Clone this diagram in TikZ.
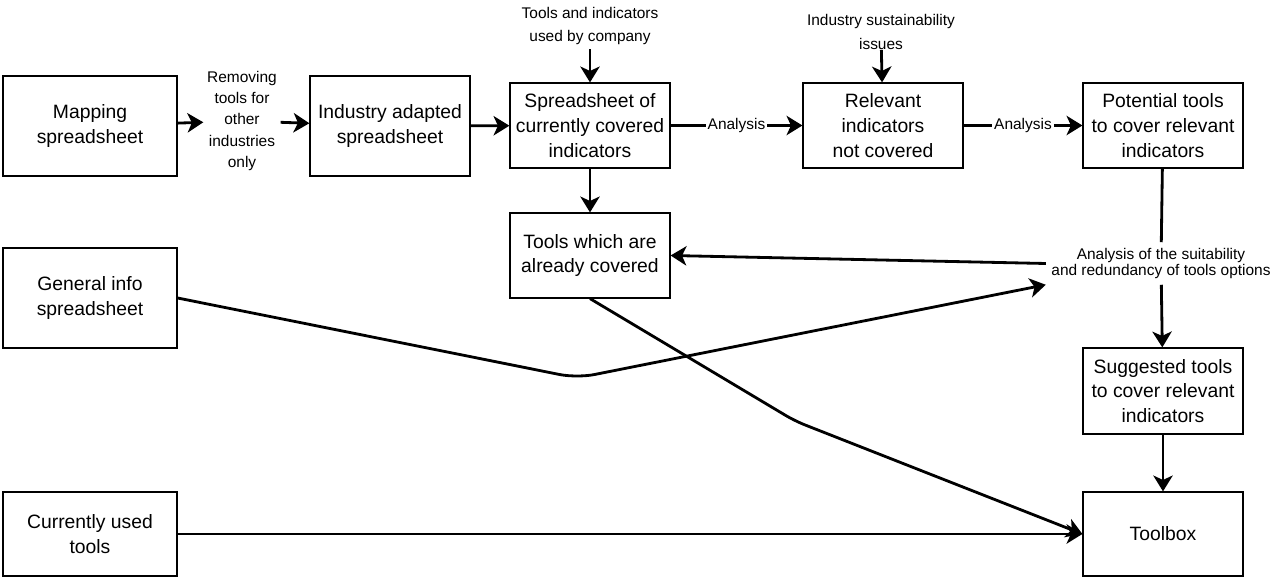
\documentclass[tikz,border=0pt]{standalone}
\usepackage{fontspec}
\setmainfont{Liberation Sans}
\usetikzlibrary{arrows.meta,positioning}

\begin{document}
\begin{tikzpicture}[x = 0.02cm, y = -0.02cm,
    box/.style = {draw, line width = 0.7pt, align = center, inner sep = 0pt, minimum width = 3.2cm, minimum height = 1.7cm, font = \fontsize{11}{14}\selectfont},
    note/.style = {align = center, inner sep = 2pt, font = \fontsize{8.8}{13.6}\selectfont},
    lab/.style = {fill = white, inner sep = 1pt, font = \fontsize{8.8}{10}\selectfont},
    link/.style = {line width = 1.6pt},
    arr/.style = {link, -{Stealth[length = 9pt, width = 11pt, inset = 2.5pt]}}]
            \useasboundingbox[fill = white](0,0)rectangle(1276,577);
            % top row
            \node[box, minimum width = 3.48cm, minimum height = 2cm](map)at(90,126){Mapping\\spreadsheet};
            \node[note, font = \fontsize{8.8}{12.2}\selectfont](rem)at(242,121){Removing\\tools for\\other\\industries\\only};
            \node[box, minimum height = 2cm](adapt)at(390,126){Industry adapted\\spreadsheet};
            \node[box](cov)at(590,125.5){Spreadsheet of\\currently covered\\indicators};
            \node[note](used)at(590,26){Tools and indicators\\used by company};
            \node[box](rel)at(883,125.5){Relevant\\indicators\\not covered};
            \node[note, inner sep = 0pt](iss)at(881,32){Industry sustainability\\issues};
            \node[box](pot)at(1163,125.5){Potential tools\\to cover relevant\\indicators};
            % middle
            \node[box](done)at(590,255.5){Tools which are\\already covered};
            \node[note, inner sep = 3pt, font = \fontsize{8.8}{9.6}\selectfont](suit)at(1161,263.5){Analysis of the suitability\\and redundancy of tools options};
            \node[box, minimum width = 3.48cm, minimum height = 2cm](gen)at(90,298){General info\\spreadsheet};
            \node[box, minimum height = 1.72cm](sug)at(1163,391){Suggested tools\\to cover relevant\\indicators};
            % bottom row
            \node[box, minimum width = 3.48cm, minimum height = 1.68cm](cur)at(90,534){Currently used\\tools};
            \node[box, minimum height = 1.68cm](tbox)at(1163,534){Toolbox};
            % bends
            \coordinate(dip)at(577,378);
            \coordinate(knee)at(795,421);
            % arrows
            \path[draw, arr](map)--(rem);
            \path[draw, arr](rem)--(adapt);
            \path[draw, arr](adapt)--(cov);
            \path[draw, arr](used)--(cov);
            \path[draw, arr](iss)--(rel);
            \path[draw, arr](cov)--node[lab]{Analysis}(rel);
            \path[draw, arr](rel)--node[lab]{Analysis}(pot);
            \path[draw, arr](cov)--(done);
            \path[draw, link](pot)--(suit);
            \path[draw, arr](suit)--(sug);
            \path[draw, arr](suit.west)--(done.east);
            \path[draw, arr, rounded corners = 10pt](gen.east)--(dip)--(suit.south west);
            \path[draw, arr, rounded corners = 6pt](done.south)--(knee)--(tbox.west);
            \path[draw, arr](sug)--(tbox);
            \path[draw, arr](cur)--(tbox);
        \end{tikzpicture}
\end{document}
